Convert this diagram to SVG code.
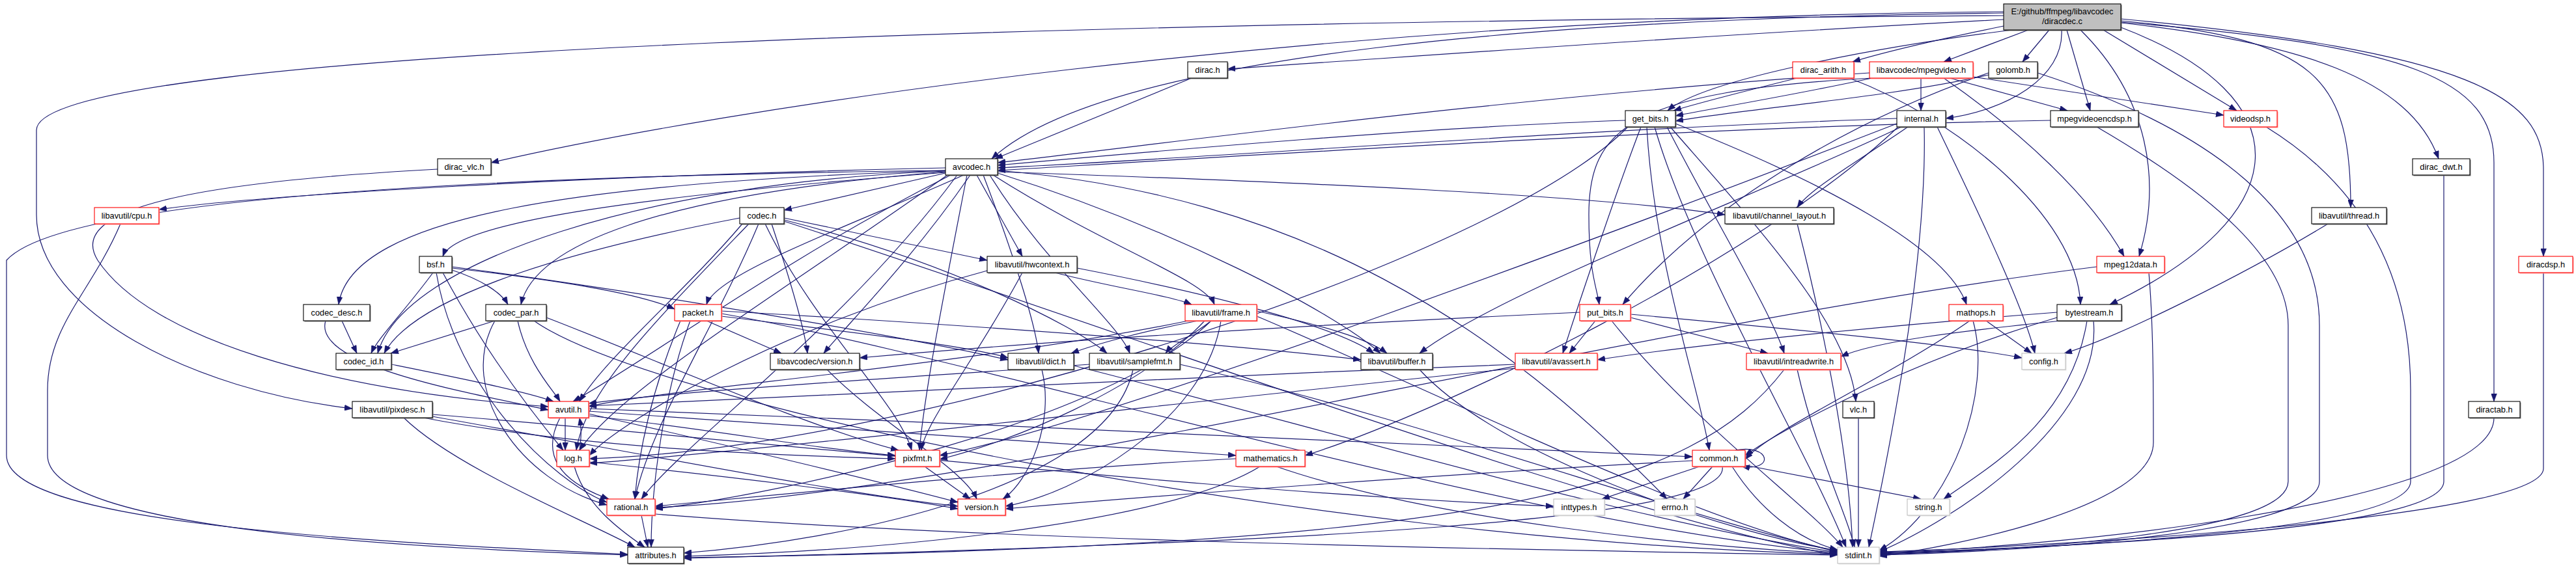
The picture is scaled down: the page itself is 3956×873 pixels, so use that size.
<svg xmlns="http://www.w3.org/2000/svg" width="3956" height="873" viewBox="0 0 3956 873">
<style>
.node rect{fill:#fff;stroke-width:1.1}
.node .s{stroke:none}
.b rect{stroke:#000}
.b .s{fill:#7a7a7a}
.r rect{stroke:#ff0000}
.r .s{fill:#ff9a9a}
.g rect{stroke:#bfbfbf}
.g .s{fill:#e4e4e4}
.root rect{fill:#bfbfbf;stroke:#000}
.root .s{fill:#6a6a6a}
.node text{font-family:"Liberation Sans",Arial,sans-serif;font-size:12.8px;fill:#000;text-anchor:middle}
#edges path{fill:none;stroke:#191970;stroke-width:1.2;marker-end:url(#ah)}
</style>
<defs>
<marker id="ah" markerUnits="userSpaceOnUse" markerWidth="13" markerHeight="9" refX="12" refY="4.5" orient="auto">
<path d="M0,0 L12,4.5 L0,9 z" fill="#191970" stroke="#191970" stroke-width="0.5"/>
</marker>
</defs>
<rect x="0" y="0" width="3956" height="873" fill="#fff"/>
<g id="edges">
<path d="M3077,24 C1800,32 56,70 56,200 L56,330 C56,480 300,600 541,628"/>
<path d="M3257,32 C3560,60 3610,120 3610,319"/>
<path d="M3077,20 C2400,28 1700,80 1523,244"/>
<path d="M3090,46 C2900,70 2620,120 2561,170"/>
<path d="M3257,42 C3540,150 3530,330 3240,468"/>
<path d="M3166,46 C3170,120 3080,170 2988,182"/>
<path d="M3147,46 L3106,95"/>
<path d="M3077,40 C2980,60 2900,78 2845,95"/>
<path d="M3077,18 C2000,26 1100,170 754,250"/>
<path d="M3195,46 C3300,150 3320,280 3285,394"/>
<path d="M3115,46 L2985,95"/>
<path d="M3174,46 L3210,170"/>
<path d="M3257,35 C3530,65 3700,120 3745,244"/>
<path d="M3077,30 C2600,55 2200,85 1885,106"/>
<path d="M3257,34 C3700,70 3830,120 3830,250 L3830,617"/>
<path d="M3257,29 C3800,80 3906,150 3906,260 L3906,394"/>
<path d="M3230,46 L3435,170"/>
<path d="M1830,120 L1528,244"/>
<path d="M2760,120 C2680,140 2610,158 2570,170"/>
<path d="M2840,120 C3000,180 3190,330 3195,468"/>
<path d="M2871,112 C2300,150 1800,220 1532,250"/>
<path d="M2875,120 C2760,145 2640,165 2573,178"/>
<path d="M2950,120 L2950,170"/>
<path d="M2994,120 L3175,170"/>
<path d="M3030,118 L3415,177"/>
<path d="M2875,120 C2500,140 2440,200 2440,330 C2440,420 2452,440 2456,468"/>
<path d="M2985,120 C3100,200 3210,300 3262,394"/>
<path d="M3054,115 C2900,150 2700,165 2573,186"/>
<path d="M3054,112 C2800,200 2600,340 2492,468"/>
<path d="M3129,112 C3400,200 3562,330 3562,500 L3562,740 C3562,820 3100,848 2886,853"/>
<path d="M2496,185 C2200,195 1800,230 1532,254"/>
<path d="M2541,195 C2600,400 2780,700 2835,841"/>
<path d="M2529,195 C2540,400 2610,600 2625,692"/>
<path d="M2560,195 C2640,350 2720,480 2740,543"/>
<path d="M2500,195 C2300,400 1400,690 905,705"/>
<path d="M2520,195 C2480,300 2420,480 2400,543"/>
<path d="M2573,190 C2800,280 2990,380 3020,468"/>
<path d="M2565,195 C2700,350 2840,500 2850,617"/>
<path d="M2854,642 L2854,841"/>
<path d="M3215,493 C3230,650 3000,800 2886,848"/>
<path d="M3205,493 C3180,650 3050,720 2985,767"/>
<path d="M3159,480 C2900,500 2600,530 2453,553"/>
<path d="M3159,488 C2950,550 2750,650 2680,700"/>
<path d="M3165,493 C3000,510 2880,525 2827,548"/>
<path d="M2913,182 C2400,200 1900,240 1532,258"/>
<path d="M2955,195 C2960,400 2900,700 2870,841"/>
<path d="M2920,195 C2700,300 2300,450 2180,543"/>
<path d="M2930,195 C2850,250 2780,290 2760,319"/>
<path d="M2915,195 C2700,400 2200,640 2004,700"/>
<path d="M2913,190 C2500,350 1700,650 1443,700"/>
<path d="M2975,195 C3050,350 3110,480 3125,543"/>
<path d="M3149,185 C2600,195 1900,240 1532,262"/>
<path d="M3220,195 C3400,300 3514,400 3514,500 L3514,740 C3514,820 3100,846 2886,852"/>
<path d="M3480,195 C3650,300 3702,450 3702,600 L3702,740 C3702,820 3100,844 2886,851"/>
<path d="M3753,269 L3753,740 C3753,820 3100,843 2886,850"/>
<path d="M3575,344 C3450,420 3250,520 3170,543"/>
<path d="M3300,419 C3307,500 3307,600 3307,680 C3307,780 3000,840 2886,855"/>
<path d="M3220,410 C2500,500 1500,760 1006,780"/>
<path d="M3830,642 C3830,780 3100,845 2886,849"/>
<path d="M3906,419 L3906,720 C3906,800 3100,842 2886,848"/>
<path d="M672,260 C300,280 100,320 150,400 C230,520 500,600 842,625"/>
<path d="M1532,262 C2000,300 2300,500 2560,767"/>
<path d="M1520,269 C1600,400 1720,500 1735,543"/>
<path d="M1452,262 C800,270 100,300 10,400 L10,700 C10,800 500,830 964,852"/>
<path d="M1460,269 C1200,400 1000,550 880,617"/>
<path d="M1532,266 C1800,350 2050,480 2120,543"/>
<path d="M1452,258 C900,270 400,300 244,322"/>
<path d="M1532,264 C2000,280 2450,300 2649,330"/>
<path d="M1510,269 C1560,400 1590,500 1595,543"/>
<path d="M1525,269 C1700,380 1850,430 1865,468"/>
<path d="M1500,269 L1570,394"/>
<path d="M1455,269 C1200,450 950,600 890,692"/>
<path d="M1485,269 C1450,450 1420,600 1412,692"/>
<path d="M1470,269 C1300,500 1050,680 985,767"/>
<path d="M1452,265 C1000,300 700,340 680,394"/>
<path d="M1452,266 L1204,323"/>
<path d="M1452,262 C900,280 540,330 520,468"/>
<path d="M1452,264 C1000,300 820,380 800,468"/>
<path d="M1452,263 C1000,280 620,400 580,543"/>
<path d="M1480,269 C1300,350 1100,420 1085,468"/>
<path d="M1490,269 C1400,400 1300,500 1265,543"/>
<path d="M1204,340 C1700,500 2500,800 2822,853"/>
<path d="M1140,344 C1050,450 930,550 890,617"/>
<path d="M1204,335 L1516,400"/>
<path d="M1150,344 C1000,500 900,600 885,692"/>
<path d="M1175,344 C1250,500 1380,620 1400,692"/>
<path d="M1165,344 C1100,500 1000,650 975,767"/>
<path d="M1204,338 C1450,400 1650,500 1700,543"/>
<path d="M1136,335 C900,380 640,450 590,543"/>
<path d="M1185,344 C1210,420 1235,500 1240,543"/>
<path d="M694,410 C1000,450 1400,520 1548,553"/>
<path d="M680,419 C750,550 830,650 865,692"/>
<path d="M670,419 C700,600 850,740 932,772"/>
<path d="M665,419 C620,480 580,520 570,543"/>
<path d="M694,415 C740,430 770,450 780,468"/>
<path d="M694,412 C850,430 980,450 1036,475"/>
<path d="M500,493 C480,560 700,600 842,630"/>
<path d="M525,493 L548,543"/>
<path d="M820,493 C1000,620 2000,830 2822,852"/>
<path d="M795,493 C810,560 850,600 860,617"/>
<path d="M760,493 C700,600 800,740 932,776"/>
<path d="M839,488 C1000,550 1250,660 1380,692"/>
<path d="M760,493 L600,543"/>
<path d="M601,560 C700,580 800,600 850,617"/>
<path d="M1108,482 C1500,550 2300,800 2822,850"/>
<path d="M1060,493 C1020,600 1000,750 1000,841"/>
<path d="M1108,478 C1500,500 1900,530 2090,553"/>
<path d="M1108,486 C1300,510 1480,530 1548,550"/>
<path d="M1045,493 C1000,600 980,700 975,767"/>
<path d="M1085,493 L1200,543"/>
<path d="M1270,568 C1350,650 1480,720 1500,767"/>
<path d="M1654,412 C1850,450 2050,500 2110,543"/>
<path d="M1620,419 C1700,440 1800,455 1830,468"/>
<path d="M1516,416 C1200,500 950,650 905,700"/>
<path d="M1570,419 C1500,550 1420,650 1415,692"/>
<path d="M1930,486 C2200,600 2600,800 2822,848"/>
<path d="M1825,493 C1500,560 1000,600 904,625"/>
<path d="M1930,478 C2030,500 2100,520 2130,543"/>
<path d="M1840,493 C1750,510 1680,530 1645,543"/>
<path d="M1860,493 C1700,650 1200,760 1006,782"/>
<path d="M1860,493 C1840,510 1800,530 1790,543"/>
<path d="M1850,493 C1750,600 1550,680 1443,706"/>
<path d="M1875,493 C1850,650 1650,760 1544,778"/>
<path d="M1649,562 C2000,650 2500,800 2822,849"/>
<path d="M1600,568 C1620,650 1580,740 1540,767"/>
<path d="M1812,560 C2200,650 2600,800 2822,847"/>
<path d="M1673,560 C1400,580 1050,600 904,620"/>
<path d="M1740,568 C1700,750 1300,830 1050,850"/>
<path d="M2180,568 C2300,700 2650,820 2822,846"/>
<path d="M664,637 C1200,680 1900,760 2386,778"/>
<path d="M620,642 C700,720 900,800 975,841"/>
<path d="M650,642 C900,690 1200,700 1375,705"/>
<path d="M664,640 C1000,700 1300,760 1471,778"/>
<path d="M2760,344 C2800,500 2840,700 2845,841"/>
<path d="M185,344 C140,450 73,500 73,600 L73,700 C73,820 700,845 964,853"/>
<path d="M904,628 C1500,650 2300,690 2599,702"/>
<path d="M860,642 C830,700 860,740 935,767"/>
<path d="M904,636 C1100,680 1350,740 1471,772"/>
<path d="M904,632 C1300,660 1750,690 1898,700"/>
<path d="M868,642 L868,692"/>
<path d="M904,639 C1100,660 1250,690 1375,700"/>
<path d="M890,692 C893,670 893,660 890,642"/>
<path d="M905,710 C1100,730 1350,760 1471,782"/>
<path d="M882,717 C900,780 960,820 990,841"/>
<path d="M1006,790 C1500,830 2300,845 2822,853"/>
<path d="M985,792 L995,841"/>
<path d="M1420,717 L1490,767"/>
<path d="M1960,717 C2200,800 2600,840 2822,851"/>
<path d="M1935,717 C1800,800 1400,845 1050,855"/>
<path d="M1898,705 C1600,720 1200,760 1006,778"/>
<path d="M2630,717 L2585,767"/>
<path d="M2610,717 L2460,767"/>
<path d="M2660,717 C2700,780 2760,830 2822,845"/>
<path d="M2680,715 L2950,767"/>
<path d="M2645,717 C2660,800 2000,835 1050,858"/>
<path d="M2599,708 C2200,730 1800,760 1544,782"/>
<path d="M2665,692 C2720,682 2725,725 2675,717"/>
<path d="M3050,493 L3120,543"/>
<path d="M3025,493 C2900,580 2720,660 2680,706"/>
<path d="M3030,493 C3060,600 3000,780 2886,846"/>
<path d="M2475,493 C2600,650 2780,780 2830,841"/>
<path d="M2504,483 C2800,510 3000,530 3105,550"/>
<path d="M2450,493 L2410,543"/>
<path d="M2504,488 L2715,543"/>
<path d="M2426,480 C2000,500 1600,525 1320,550"/>
<path d="M2327,560 C1800,580 1200,610 904,624"/>
<path d="M2327,566 C1800,620 1200,690 905,712"/>
<path d="M2760,568 C2790,700 2840,800 2848,841"/>
<path d="M2740,568 C2600,750 2300,840 1050,857"/>
</g>
<g id="n_root" class="node root"><rect class="s" x="3078.5" y="7.5" width="180" height="40"/><rect x="3077" y="6" width="180" height="40"/><text x="3167" y="22">E:/github/ffmpeg/libavcodec</text><text x="3167" y="37">/diracdec.c</text></g>
<g id="n_dirac_h" class="node b"><rect class="s" x="1825.5" y="96.5" width="61" height="25"/><rect x="1824" y="95" width="61" height="25"/><text x="1854.5" y="112">dirac.h</text></g>
<g id="n_dirac_arith_h" class="node r"><rect class="s" x="2754.5" y="96.5" width="94" height="25"/><rect x="2753" y="95" width="94" height="25"/><text x="2800" y="112">dirac_arith.h</text></g>
<g id="n_mpegvideo_h" class="node r"><rect class="s" x="2872.5" y="96.5" width="159" height="25"/><rect x="2871" y="95" width="159" height="25"/><text x="2950.5" y="112">libavcodec/mpegvideo.h</text></g>
<g id="n_golomb_h" class="node b"><rect class="s" x="3055.5" y="96.5" width="75" height="25"/><rect x="3054" y="95" width="75" height="25"/><text x="3091.5" y="112">golomb.h</text></g>
<g id="n_get_bits_h" class="node b"><rect class="s" x="2497.5" y="171.5" width="77" height="25"/><rect x="2496" y="170" width="77" height="25"/><text x="2534.5" y="187">get_bits.h</text></g>
<g id="n_internal_h" class="node b"><rect class="s" x="2914.5" y="171.5" width="75" height="25"/><rect x="2913" y="170" width="75" height="25"/><text x="2950.5" y="187">internal.h</text></g>
<g id="n_mpegvideoencdsp_h" class="node b"><rect class="s" x="3150.5" y="171.5" width="135" height="25"/><rect x="3149" y="170" width="135" height="25"/><text x="3216.5" y="187">mpegvideoencdsp.h</text></g>
<g id="n_videodsp_h" class="node r"><rect class="s" x="3416.5" y="171.5" width="82" height="25"/><rect x="3415" y="170" width="82" height="25"/><text x="3456" y="187">videodsp.h</text></g>
<g id="n_dirac_vlc_h" class="node b"><rect class="s" x="673.5" y="245.5" width="82" height="25"/><rect x="672" y="244" width="82" height="25"/><text x="713" y="261">dirac_vlc.h</text></g>
<g id="n_avcodec_h" class="node b"><rect class="s" x="1453.5" y="245.5" width="80" height="25"/><rect x="1452" y="244" width="80" height="25"/><text x="1492" y="261">avcodec.h</text></g>
<g id="n_dirac_dwt_h" class="node b"><rect class="s" x="3706.5" y="245.5" width="88" height="25"/><rect x="3705" y="244" width="88" height="25"/><text x="3749" y="261">dirac_dwt.h</text></g>
<g id="n_cpu_h" class="node r"><rect class="s" x="146.5" y="320.5" width="99" height="25"/><rect x="145" y="319" width="99" height="25"/><text x="194.5" y="336">libavutil/cpu.h</text></g>
<g id="n_codec_h" class="node b"><rect class="s" x="1137.5" y="320.5" width="68" height="25"/><rect x="1136" y="319" width="68" height="25"/><text x="1170" y="336">codec.h</text></g>
<g id="n_channel_layout_h" class="node b"><rect class="s" x="2650.5" y="320.5" width="167" height="25"/><rect x="2649" y="319" width="167" height="25"/><text x="2732.5" y="336">libavutil/channel_layout.h</text></g>
<g id="n_thread_h" class="node b"><rect class="s" x="3551.5" y="320.5" width="115" height="25"/><rect x="3550" y="319" width="115" height="25"/><text x="3607.5" y="336">libavutil/thread.h</text></g>
<g id="n_bsf_h" class="node b"><rect class="s" x="645.5" y="395.5" width="50" height="25"/><rect x="644" y="394" width="50" height="25"/><text x="669" y="411">bsf.h</text></g>
<g id="n_hwcontext_h" class="node b"><rect class="s" x="1517.5" y="395.5" width="138" height="25"/><rect x="1516" y="394" width="138" height="25"/><text x="1585" y="411">libavutil/hwcontext.h</text></g>
<g id="n_mpeg12data_h" class="node r"><rect class="s" x="3221.5" y="395.5" width="104" height="25"/><rect x="3220" y="394" width="104" height="25"/><text x="3272" y="411">mpeg12data.h</text></g>
<g id="n_diracdsp_h" class="node r"><rect class="s" x="3869.5" y="395.5" width="83" height="25"/><rect x="3868" y="394" width="83" height="25"/><text x="3909.5" y="411">diracdsp.h</text></g>
<g id="n_codec_desc_h" class="node b"><rect class="s" x="467.5" y="469.5" width="102" height="25"/><rect x="466" y="468" width="102" height="25"/><text x="517" y="485">codec_desc.h</text></g>
<g id="n_codec_par_h" class="node b"><rect class="s" x="747.5" y="469.5" width="93" height="25"/><rect x="746" y="468" width="93" height="25"/><text x="792.5" y="485">codec_par.h</text></g>
<g id="n_packet_h" class="node r"><rect class="s" x="1037.5" y="469.5" width="72" height="25"/><rect x="1036" y="468" width="72" height="25"/><text x="1072" y="485">packet.h</text></g>
<g id="n_frame_h" class="node r"><rect class="s" x="1821.5" y="469.5" width="110" height="25"/><rect x="1820" y="468" width="110" height="25"/><text x="1875" y="485">libavutil/frame.h</text></g>
<g id="n_put_bits_h" class="node r"><rect class="s" x="2427.5" y="469.5" width="78" height="25"/><rect x="2426" y="468" width="78" height="25"/><text x="2465" y="485">put_bits.h</text></g>
<g id="n_mathops_h" class="node r"><rect class="s" x="2994.5" y="469.5" width="83" height="25"/><rect x="2993" y="468" width="83" height="25"/><text x="3034.5" y="485">mathops.h</text></g>
<g id="n_bytestream_h" class="node b"><rect class="s" x="3160.5" y="469.5" width="99" height="25"/><rect x="3159" y="468" width="99" height="25"/><text x="3208.5" y="485">bytestream.h</text></g>
<g id="n_codec_id_h" class="node b"><rect class="s" x="517.5" y="544.5" width="85" height="25"/><rect x="516" y="543" width="85" height="25"/><text x="558.5" y="560">codec_id.h</text></g>
<g id="n_lavc_version_h" class="node b"><rect class="s" x="1184.5" y="544.5" width="137" height="25"/><rect x="1183" y="543" width="137" height="25"/><text x="1251.5" y="560">libavcodec/version.h</text></g>
<g id="n_dict_h" class="node b"><rect class="s" x="1549.5" y="544.5" width="101" height="25"/><rect x="1548" y="543" width="101" height="25"/><text x="1598.5" y="560">libavutil/dict.h</text></g>
<g id="n_samplefmt_h" class="node b"><rect class="s" x="1674.5" y="544.5" width="139" height="25"/><rect x="1673" y="543" width="139" height="25"/><text x="1742.5" y="560">libavutil/samplefmt.h</text></g>
<g id="n_buffer_h" class="node b"><rect class="s" x="2091.5" y="544.5" width="110" height="25"/><rect x="2090" y="543" width="110" height="25"/><text x="2145" y="560">libavutil/buffer.h</text></g>
<g id="n_avassert_h" class="node r"><rect class="s" x="2328.5" y="544.5" width="126" height="25"/><rect x="2327" y="543" width="126" height="25"/><text x="2390" y="560">libavutil/avassert.h</text></g>
<g id="n_intreadwrite_h" class="node r"><rect class="s" x="2683.5" y="544.5" width="145" height="25"/><rect x="2682" y="543" width="145" height="25"/><text x="2754.5" y="560">libavutil/intreadwrite.h</text></g>
<g id="n_config_h" class="node g"><rect class="s" x="3106.5" y="544.5" width="67" height="25"/><rect x="3105" y="543" width="67" height="25"/><text x="3138.5" y="560">config.h</text></g>
<g id="n_pixdesc_h" class="node b"><rect class="s" x="542.5" y="618.5" width="123" height="25"/><rect x="541" y="617" width="123" height="25"/><text x="602.5" y="634">libavutil/pixdesc.h</text></g>
<g id="n_avutil_h" class="node r"><rect class="s" x="843.5" y="618.5" width="62" height="25"/><rect x="842" y="617" width="62" height="25"/><text x="873" y="634">avutil.h</text></g>
<g id="n_vlc_h" class="node b"><rect class="s" x="2831.5" y="618.5" width="48" height="25"/><rect x="2830" y="617" width="48" height="25"/><text x="2854" y="634">vlc.h</text></g>
<g id="n_diractab_h" class="node b"><rect class="s" x="3792.5" y="618.5" width="79" height="25"/><rect x="3791" y="617" width="79" height="25"/><text x="3830.5" y="634">diractab.h</text></g>
<g id="n_log_h" class="node r"><rect class="s" x="856.5" y="693.5" width="50" height="25"/><rect x="855" y="692" width="50" height="25"/><text x="880" y="709">log.h</text></g>
<g id="n_pixfmt_h" class="node r"><rect class="s" x="1376.5" y="693.5" width="68" height="25"/><rect x="1375" y="692" width="68" height="25"/><text x="1409" y="709">pixfmt.h</text></g>
<g id="n_mathematics_h" class="node r"><rect class="s" x="1899.5" y="693.5" width="106" height="25"/><rect x="1898" y="692" width="106" height="25"/><text x="1951" y="709">mathematics.h</text></g>
<g id="n_common_h" class="node r"><rect class="s" x="2600.5" y="693.5" width="81" height="25"/><rect x="2599" y="692" width="81" height="25"/><text x="2639.5" y="709">common.h</text></g>
<g id="n_rational_h" class="node r"><rect class="s" x="933.5" y="768.5" width="74" height="25"/><rect x="932" y="767" width="74" height="25"/><text x="969" y="784">rational.h</text></g>
<g id="n_version_h" class="node r"><rect class="s" x="1472.5" y="768.5" width="73" height="25"/><rect x="1471" y="767" width="73" height="25"/><text x="1507.5" y="784">version.h</text></g>
<g id="n_inttypes_h" class="node g"><rect class="s" x="2387.5" y="768.5" width="78" height="25"/><rect x="2386" y="767" width="78" height="25"/><text x="2425" y="784">inttypes.h</text></g>
<g id="n_errno_h" class="node g"><rect class="s" x="2542.5" y="768.5" width="62" height="25"/><rect x="2541" y="767" width="62" height="25"/><text x="2572" y="784">errno.h</text></g>
<g id="n_string_h" class="node g"><rect class="s" x="2930.5" y="768.5" width="65" height="25"/><rect x="2929" y="767" width="65" height="25"/><text x="2961.5" y="784">string.h</text></g>
<g id="n_attributes_h" class="node b"><rect class="s" x="965.5" y="842.5" width="86" height="25"/><rect x="964" y="841" width="86" height="25"/><text x="1007" y="858">attributes.h</text></g>
<g id="n_stdint_h" class="node g"><rect class="s" x="2823.5" y="842.5" width="64" height="25"/><rect x="2822" y="841" width="64" height="25"/><text x="2854" y="858">stdint.h</text></g>
</svg>
